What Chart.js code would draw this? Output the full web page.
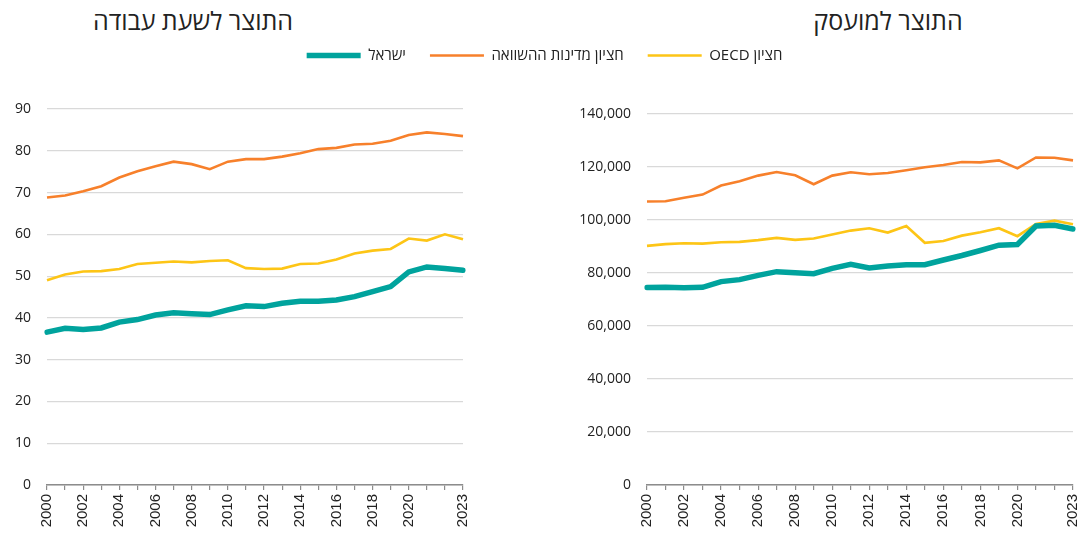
<!DOCTYPE html>
<html lang="he">
<head>
<meta charset="utf-8">
<script src="https://cdn.jsdelivr.net/npm/chart.js@4/dist/chart.umd.min.js"></script>
<style>
  body { margin: 0; background: #fff; width: 1081px; height: 535px; overflow: hidden; position: relative; }
  .title { position: absolute; top: 3px; font-family: "Open Sans", "Noto Sans", "DejaVu Sans", sans-serif; font-size: 25px; color: #222; direction: rtl; white-space: nowrap; transform: translateX(-50%); }
  .box { position: absolute; }
</style>
</head>
<body>
<div class="title" style="left:193px">התוצר לשעת עבודה</div>
<div class="title" style="left:888px">התוצר למועסק</div>
<div class="box" style="left:0;top:24px;width:1081px;height:90px"><canvas id="legend"></canvas></div>
<div class="box" style="left:0;top:97px;width:475px;height:438px"><canvas id="hours"></canvas></div>
<div class="box" style="left:560px;top:102px;width:521px;height:433px"><canvas id="workers"></canvas></div>
<script>
// =====================
// DATA
// =====================
const years = [2000, 2001, 2002, 2003, 2004, 2005, 2006, 2007, 2008, 2009, 2010, 2011,
               2012, 2013, 2014, 2015, 2016, 2017, 2018, 2019, 2020, 2021, 2022, 2023];
const shownYears = [2000, 2002, 2004, 2006, 2008, 2010, 2012, 2014, 2016, 2018, 2020, 2023];

const seriesNames = ["ישראל", "חציון מדינות ההשוואה", "חציון OECD"];

// output per hour worked
const hourIsrael  = [36.6, 37.5, 37.2, 37.6, 39.0, 39.6, 40.7, 41.2, 41.0, 40.8, 41.9, 42.9,
                     42.7, 43.5, 44.0, 44.0, 44.3, 45.1, 46.3, 47.5, 51.0, 52.2, 51.8, 51.4];
const hourPeers   = [68.8, 69.3, 70.3, 71.5, 73.6, 75.1, 76.3, 77.4, 76.8, 75.6, 77.4, 78.0,
                     78.0, 78.6, 79.4, 80.4, 80.7, 81.5, 81.7, 82.4, 83.8, 84.4, 84.0, 83.5];
const hourOecd    = [49.0, 50.4, 51.1, 51.2, 51.7, 52.9, 53.2, 53.5, 53.3, 53.6, 53.8, 51.9,
                     51.7, 51.8, 52.9, 53.0, 54.0, 55.4, 56.1, 56.5, 59.0, 58.5, 60.0, 58.8];
const hourTicks   = [0, 10, 20, 30, 40, 50, 60, 70, 80, 90];

// output per employed person
const workerIsrael = [74500, 74600, 74400, 74600, 76750, 77500, 79100, 80500, 80100, 79750, 81750, 83250,
                      81900, 82600, 83100, 83100, 84900, 86600, 88500, 90500, 90750, 97750, 98000, 96600];
const workerPeers  = [107000, 107100, 108400, 109600, 113000, 114600, 116750, 118100, 116900, 113500, 116750, 118000,
                      117250, 117750, 118750, 119900, 120750, 121900, 121750, 122500, 119500, 123600, 123500, 122500];
const workerOecd   = [90250, 90900, 91250, 91100, 91600, 91750, 92400, 93250, 92500, 93000, 94500, 96000,
                       96900, 95250, 97750, 91400, 92100, 94100, 95400, 96900, 93900, 98500, 99750, 98400];
const workerTicks  = [0, 20000, 40000, 60000, 80000, 100000, 120000, 140000];

// =====================
// STYLE
// =====================
const TEAL = "#00a39d";
const ORANGE = "#f7802b";
const YELLOW = "#fdc516";
const TEXT = "#222";
const NUM_FONT = "'Open Sans', 'Noto Sans', sans-serif";
const YEAR_FONT = "'Liberation Sans', Arial, sans-serif";

// drawOrder: teal on top, then yellow, then orange (legend keeps dataset order)
function makeSets(isr, peers, oecd, drawOrder) {
  const o = drawOrder ? [0, 2, 1] : [0, 1, 2];
  return [
    { label: seriesNames[0], data: isr, borderColor: TEAL, backgroundColor: TEAL, borderWidth: 5.5, borderCapStyle: "round", order: o[0] },
    { label: seriesNames[1], data: peers, borderColor: ORANGE, backgroundColor: ORANGE, borderWidth: 2.6, order: o[1] },
    { label: seriesNames[2], data: oecd, borderColor: YELLOW, backgroundColor: YELLOW, borderWidth: 2.6, order: o[2] }
  ];
}

function makeChart(id, sets, ticks, axisWidth, rightPad, fmt) {
  return new Chart(document.getElementById(id), {
    type: "line",
    data: { labels: years, datasets: sets },
    options: {
      responsive: true,
      maintainAspectRatio: false,
      animation: false,
      elements: { point: { radius: 0 }, line: { tension: 0 } },
      layout: { padding: { top: 12, right: rightPad, bottom: 0, left: 0 } },
      plugins: { legend: { display: false }, tooltip: { enabled: false } },
      scales: {
        x: {
          grid: { drawOnChartArea: false, drawTicks: true, tickLength: 5, color: "#8c8c8c", lineWidth: 1.2 },
          border: { color: "#8c8c8c", width: 1.6 },
          ticks: {
            autoSkip: false, maxRotation: 90, minRotation: 90, padding: 4,
            color: TEXT, font: { family: YEAR_FONT, size: 15 },
            callback: function (v) {
              const y = years[v];
              return shownYears.includes(y) ? String(y) : "";
            }
          },
          afterFit: s => { s.height = 50; s.paddingLeft = 0; s.paddingRight = 0; s.paddingTop = 0; }
        },
        y: {
          min: ticks[0],
          max: ticks[ticks.length - 1],
          afterBuildTicks: s => { s.ticks = ticks.map(v => ({ value: v })); },
          grid: { color: "#d9d9d9", lineWidth: 1.2, drawTicks: false },
          border: { display: false },
          ticks: { padding: 16, color: TEXT, font: { family: NUM_FONT, size: 14 }, callback: fmt },
          afterFit: s => { s.width = axisWidth; s.paddingTop = 0; s.paddingBottom = 0; }
        }
      }
    }
  });
}

makeChart("hours", makeSets(hourIsrael, hourPeers, hourOecd, true), hourTicks, 47, 12, v => String(v));
makeChart("workers", makeSets(workerIsrael, workerPeers, workerOecd, true), workerTicks, 87, 8,
  v => v.toLocaleString("en-US"));

// =====================
// SHARED LEGEND
// =====================
new Chart(document.getElementById("legend"), {
  type: "line",
  data: { labels: [], datasets: makeSets([], [], [], false) },
  options: {
    responsive: true,
    maintainAspectRatio: false,
    animation: false,
    layout: { padding: { left: 8 } },
    scales: { x: { display: false }, y: { display: false } },
    plugins: {
      tooltip: { enabled: false },
      legend: {
        position: "top",
        textDirection: "rtl",
        onClick: null,
        labels: {
          usePointStyle: true, pointStyle: "line", pointStyleWidth: 54,
          padding: 24, color: TEXT, font: { family: NUM_FONT, size: 15 }
        }
      }
    }
  }
});
</script>
</body>
</html>
